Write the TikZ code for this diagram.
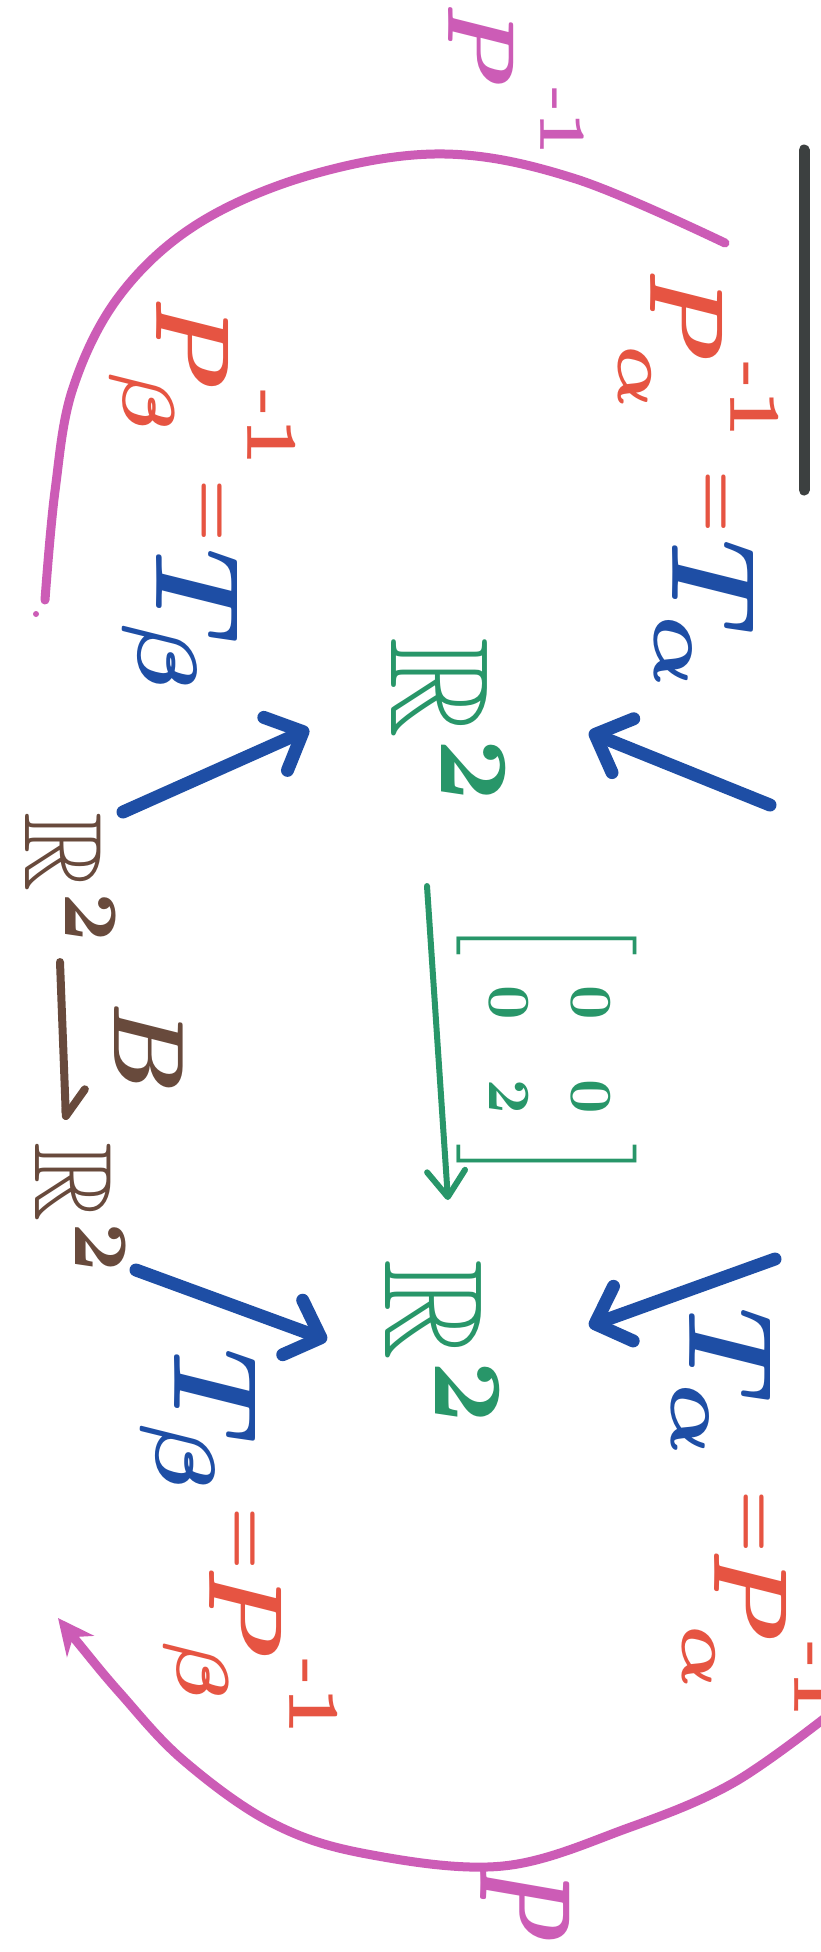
\documentclass[tikz,border=0pt]{standalone}
\usepackage{amsmath,amssymb}
\usetikzlibrary{arrows.meta,calc}
\definecolor{inkmag}{RGB}{204,92,182}
\definecolor{inkred}{RGB}{230,84,66}
\definecolor{inkblue}{RGB}{30,78,165}
\definecolor{inkgreen}{RGB}{40,150,105}
\definecolor{inkbrown}{RGB}{104,74,60}
\definecolor{inkgray}{RGB}{60,64,64}
% short, high-set superscript "-1"
\newcommand{\invsup}[1]{{\raisebox{#1}{$\scriptstyle\text{-}1$}}}
\begin{document}
\begin{tikzpicture}[x=1pt,y=-1pt,
  hand/.style={rotate=-90,inner sep=0pt,font=\boldmath},
  bluelbl/.style={hand,scale=12,text=inkblue},
  redlbl/.style={hand,scale=10.5,text=inkred},
  eqlbl/.style={hand,scale=7,text=inkred},
  spacelbl/.style={hand,scale=14,text=inkgreen},
  brownlbl/.style={hand,scale=11,text=inkbrown},
  maplbl/.style={hand,text=inkmag},
  bluearr/.style={draw=inkblue,line width=13pt,line cap=round,
    -{Straight Barb[length=30pt,width=58pt,round]}},
  greenarr/.style={draw=inkgreen,line width=6pt,line cap=round,
    -{Straight Barb[length=26pt,width=38pt,round]}},
  brownarr/.style={draw=inkbrown,line width=8pt,line cap=round,
    -{Straight Barb[left,length=26pt,width=40pt,round]}},
  magline/.style={draw=inkmag,line width=9pt,line cap=round}]
\useasboundingbox (0,0) rectangle (821,1952);
\fill[white] (0,0) rectangle (821,1952);
\clip (0,0) rectangle (821,1952);

% central column: R^2 --> R^2
\node[spacelbl] (gRtop) at (448,723) {$\mathbb{R}^2$};
\node[spacelbl] (gRbot) at (442,1345) {$\mathbb{R}^2$};
\node[hand,scale=6,text=inkgreen] (mat) at (547,1050)
  {$\renewcommand{\arraystretch}{1.15}\left[\begin{array}{cc}0&0\\0&2\end{array}\right]$};
\draw[greenarr] ($(gRtop)+(-21,163)$) -- ($(gRbot)+(6,-145)$);

% left column: R^2 --B--> R^2
\node[brownlbl] (bRtop) at (70,880) {$\mathbb{R}^2$};
\node[brownlbl] (bRbot) at (80,1210) {$\mathbb{R}^2$};
\node[hand,scale=10,text=inkbrown] (Bmap) at (149,1048) {$B$};
\draw[brownarr] ($(bRtop)+(-10,82)$) -- ($(bRbot)+(-14,-90)$);

% change-of-basis maps, upper half
\node[bluelbl] (Ta1) at (705,617) {$T_\alpha$};
\node[eqlbl] (eqa1) at (712,502) {$=$};
\node[redlbl] (Pa1) at (698,356) {$P_\alpha^{\invsup{4pt}}$};
\node[bluelbl] (Tb1) at (180,622) {$T_\beta$};
\node[eqlbl] (eqb1) at (208,511) {$=$};
\node[redlbl] (Pb1) at (202,384) {$P_\beta^{\invsup{5pt}}$};

% change-of-basis maps, lower half
\node[bluelbl] (Ta2) at (722,1385) {$T_\alpha$};
\node[eqlbl] (eqa2) at (750,1522) {$=$};
\node[redlbl] (Pa2) at (762,1636) {$P_\alpha^{\invsup{4pt}}$};
\node[bluelbl] (Tb2) at (198,1422) {$T_\beta$};
\node[eqlbl] (eqb2) at (241,1539) {$=$};
\node[redlbl] (Pb2) at (250,1653) {$P_\beta^{\invsup{4pt}}$};

% arrows into the central spaces
\coordinate (srcA1) at (770,805);
\coordinate (srcA2) at (775,1259);
\draw[bluearr] ($(bRtop)+(53,-68)$) -- ($(gRtop)+(-139,6)$);
\draw[bluearr] (srcA1) -- ($(gRtop)+(141,9)$);
\draw[bluearr] ($(bRbot)+(56,60)$) -- ($(gRbot)+(-115,-5)$);
\draw[bluearr] (srcA2) -- ($(gRbot)+(147,-19)$);

% outer arcs P^{-1} and P
\node[maplbl,scale=9.5] (Pinv) at (516,82) {$P^{\invsup{6pt}}$};
\node[maplbl,xscale=9,yscale=13] (Pfwd) at (525,1903) {$P$};
\draw[magline] plot[smooth,tension=0.6] coordinates
  {(725,243) (576,179) (445,154) (314,174) (199,223) (120,295) (73,388) (55,491) (45,600)};
\fill[inkmag] (36,614) circle (3);
\draw[magline,-{Stealth[length=36pt,width=34pt]}] plot[smooth,tension=0.6] coordinates
  {(830,1714) (733,1783) (628,1828) (503,1866) (367,1854) (272,1823) (183,1760) (120,1693) (79,1644) (58,1618)};

% dark bar at the upper right
\draw[draw=inkgray,line width=11pt,line cap=round] (804,150) -- (804,490);
\end{tikzpicture}
\end{document}
